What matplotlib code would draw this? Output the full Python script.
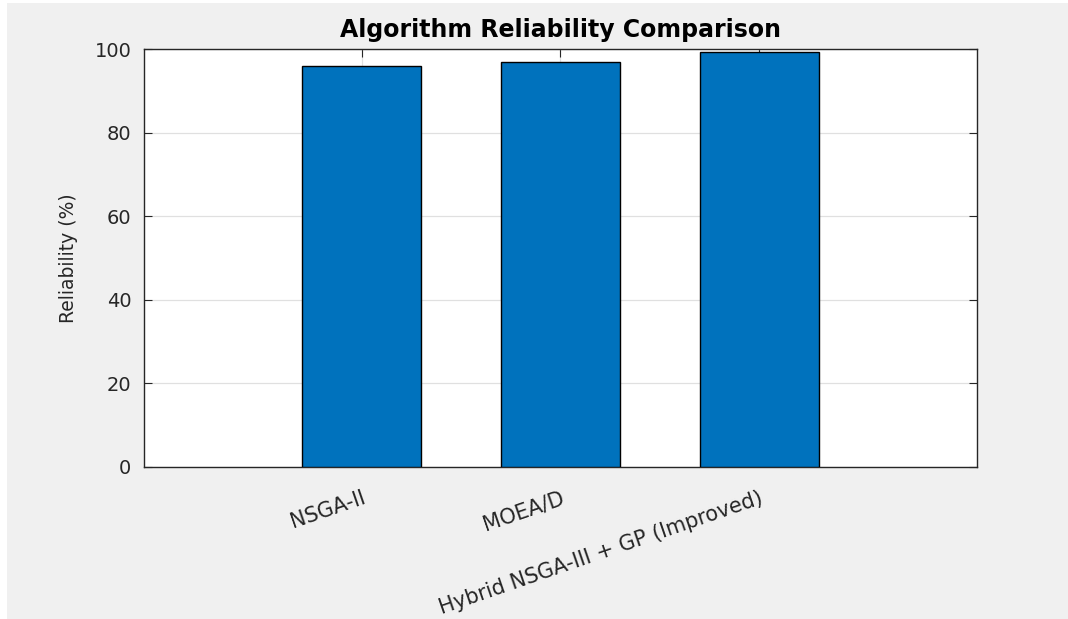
import numpy as np
import matplotlib.pyplot as plt
from matplotlib.patches import Rectangle

# data
algorithms = ['NSGA-II', 'MOEA/D', 'Hybrid NSGA-III + GP (Improved)']
reliability = [96.0, 97.0, 99.2]
yticks = [0, 20, 40, 60, 80, 100]

plt.rcParams['font.family'] = ['DejaVu Sans']

fig = plt.figure(figsize=(10.68, 6.19), dpi=100, facecolor='#f0f0f0')
# thin white strips at the top and left edge of the screenshot
fig.patches.append(Rectangle((0, 0), 7/1068, 1, transform=fig.transFigure,
                             facecolor='white', edgecolor='none', zorder=-1))
fig.patches.append(Rectangle((0, 1-3/619), 1, 3/619, transform=fig.transFigure,
                             facecolor='white', edgecolor='none', zorder=-1))

ax = fig.add_axes([0.1348, 0.2456, 0.78, 0.6752])
x = np.arange(1, len(algorithms)+1)
ax.bar(x, reliability, width=0.6, color='#0072BD', edgecolor='black',
       linewidth=1.0, zorder=3)

ax.set_xlim(-0.095, 4.095)
ax.set_ylim(0, 100)
ax.set_yticks(yticks)
ax.set_xticks(x)
ax.set_xticklabels(algorithms, rotation=19, ha='right', va='top',
                   rotation_mode='anchor', fontsize=15, color='#262626')
ax.tick_params(axis='y', labelsize=14, colors='#262626', pad=9)
ax.tick_params(direction='in', top=True, right=True, length=6, width=0.8,
               color='#262626')
ax.tick_params(axis='x', pad=15)
ax.grid(True, color='#e0e0e0', linewidth=0.9, zorder=0)
ax.set_axisbelow(True)
for s in ax.spines.values():
    s.set_color('#262626')
    s.set_linewidth(1.0)

ax.set_ylabel('Reliability (%)', fontsize=13.5, color='#262626', labelpad=12)
ax.set_title('Algorithm Reliability Comparison', fontsize=17,
             fontweight='bold', pad=9)

fig.savefig('out.png', dpi=100, facecolor=fig.get_facecolor())
